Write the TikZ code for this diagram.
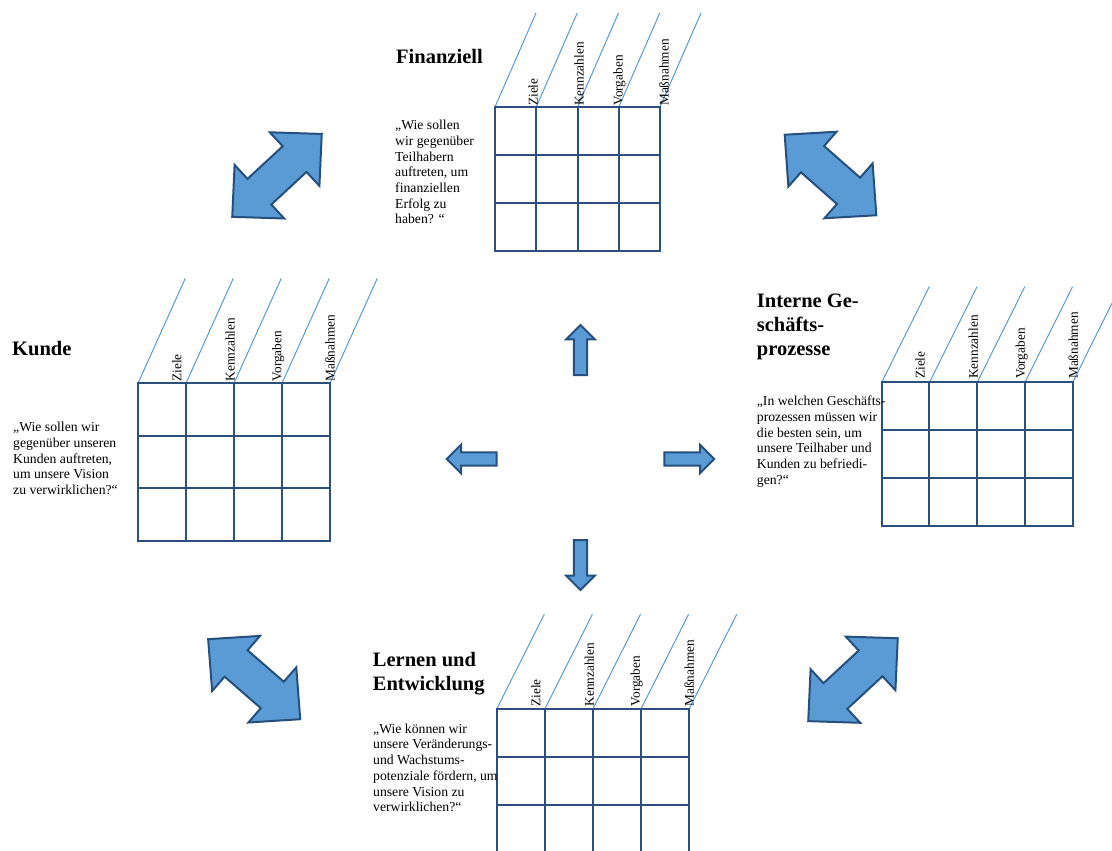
\documentclass[tikz,border=0pt]{standalone}
\usepackage{fontspec}
\setmainfont{Liberation Serif}
\definecolor{gridc}{RGB}{44,80,124}
\definecolor{diagc}{RGB}{91,155,213}
\definecolor{arrfill}{RGB}{91,155,213}
\definecolor{arrline}{RGB}{37,80,125}
\newcommand{\bscGrid}[7]{%
  \foreach \i in {0,...,4} {
    \draw[diagl] ({#1+\i*#3},#2) -- ++(#5,#6);
    \draw[gridl] ({#1+\i*#3},#2) -- ++(0,{#7*#4});
  }
  \foreach \j in {0,...,#7} \draw[gridl] (#1,{#2+\j*#4}) -- ++({4*#3},0);
}
\begin{document}
\begin{tikzpicture}[x=1pt,y=-1pt,
  gridl/.style={draw=gridc,line width=2pt,line cap=rect},
  diagl/.style={draw=diagc,line width=1pt},
  arrowsty/.style={fill=arrfill,draw=arrline,line width=2pt,line join=miter},
  lab/.style={rotate=90,anchor=west,inner sep=0pt,font=\fontsize{13.3}{15}\selectfont},
  ttl/.style={inner sep=0pt,align=left,font=\bfseries\fontsize{20.5}{23.8}\selectfont},
  body/.style={inner sep=0pt,align=left,anchor=north west,font=\fontsize{13.7}{15.7}\selectfont},
  dbl/.pic={\draw[arrowsty] (61,0) -- (24,36.5) -- (24,17.5) -- (-24,17.5) -- (-24,36.5) -- (-61,0) -- (-24,-36.5) -- (-24,-17.5) -- (24,-17.5) -- (24,-36.5) -- cycle;},
  sarr/.pic={\draw[arrowsty] (0,6.7) -- (35.7,6.7) -- (35.7,14.3) -- (50,0) -- (35.7,-14.3) -- (35.7,-6.7) -- (0,-6.7) -- cycle;}
]
\clip (0,0) rectangle (1112,851);
\fill[white] (0,0) rectangle (1112,851);

% ---------- Finanziell (top)
\bscGrid{495}{107}{41.25}{48}{41}{-94}{3}
\node[ttl,anchor=base west] (tF) at (396,64) {Finanziell};
\node[body] (bF) at (395,120) {„Wie sollen\\wir gegenüber\\Teilhabern\\auftreten, um\\finanziellen\\Erfolg zu\\haben? “};
\node[lab] (f1) at (533,106) {Ziele};
\node[lab] (f2) at (579,106) {Kennzahlen};
\node[lab] (f3) at (619.5,106) {Vorgaben};
\node[lab] (f4) at (664,106) {Maßnahmen};

% ---------- Kunde (left)
\bscGrid{138}{383.3}{48}{52.5}{47.3}{-105}{3}
\node[ttl,anchor=base west] (tK) at (12,355) {Kunde};
\node[body] (bK) at (13,422) {„Wie sollen wir\\gegenüber unseren\\Kunden auftreten,\\um unsere Vision\\zu verwirklichen?“};
\node[lab] (k1) at (176.7,381.7) {Ziele};
\node[lab] (k2) at (230,381.7) {Kennzahlen};
\node[lab] (k3) at (278.3,381.7) {Vorgaben};
\node[lab] (k4) at (330,381.7) {Maßnahmen};

% ---------- Interne Geschaeftsprozesse (right)
\bscGrid{881.7}{382.3}{47.75}{47.9}{47.6}{-95.6}{3}
\node[ttl,anchor=north west] (tI) at (756.7,294) {Interne Ge-\\schäfts-\\prozesse};
\node[body] (bI) at (756.7,396) {„In welchen Geschäfts-\\prozessen müssen wir\\die besten sein, um\\unsere Teilhaber und\\Kunden zu befriedi-\\gen?“};
\node[lab] (i1) at (920,379) {Ziele};
\node[lab] (i2) at (973.3,379) {Kennzahlen};
\node[lab] (i3) at (1021.7,379) {Vorgaben};
\node[lab] (i4) at (1073.3,379) {Maßnahmen};

% ---------- Lernen und Entwicklung (bottom)
\bscGrid{496.7}{709}{48.1}{48}{47.6}{-94.7}{3}
\node[ttl,anchor=north west] (tL) at (372.7,652) {Lernen und\\Entwicklung};
\node[body] (bL) at (373,723.5) {„Wie können wir\\unsere Veränderungs-\\und Wachstums-\\potenziale fördern, um\\unsere Vision zu\\verwirklichen?“};
\node[lab] (l1) at (535.7,706.7) {Ziele};
\node[lab] (l2) at (589.3,706.7) {Kennzahlen};
\node[lab] (l3) at (636.7,706.7) {Vorgaben};
\node[lab] (l4) at (689.3,706.7) {Maßnahmen};

% ---------- double arrows
\pic[rotate=42.8] at (277,175.4) {dbl};
\pic[rotate=-41.3] at (830.5,175) {dbl};
\pic[rotate=-41] at (254.2,679.2) {dbl};
\pic[rotate=42.8] at (853,679.7) {dbl};

% ---------- centre arrows
\pic at (664.3,459) {sarr};
\pic[rotate=180] at (496.7,459) {sarr};
\pic[rotate=90] at (580.5,375) {sarr};
\pic[rotate=-90] at (580.5,540) {sarr};
\end{tikzpicture}
\end{document}
